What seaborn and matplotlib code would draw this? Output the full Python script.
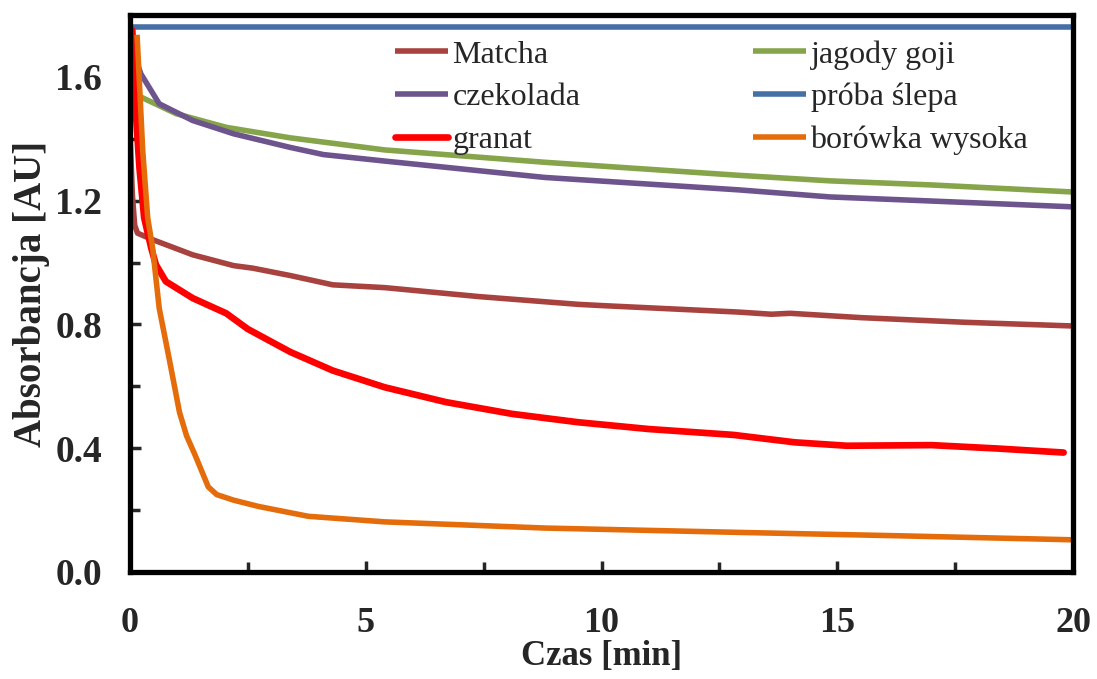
import numpy as np
import pandas as pd
import seaborn as sns
import matplotlib.pyplot as plt
from matplotlib.ticker import MultipleLocator

# Dane (czas w min, absorbancja w AU)
t_matcha = [0, 0.05, 0.1, 0.16, 0.48, 1.33, 2.2, 2.6, 3.4, 4.3, 5.4, 7.4, 9.5, 10.0, 12.9, 13.6, 14.0, 15.5, 17.7, 20]
matcha = [1.42, 1.22, 1.12, 1.095, 1.074, 1.025, 0.99, 0.982, 0.958, 0.928, 0.919, 0.890, 0.865, 0.861, 0.840, 0.833, 0.836, 0.822, 0.807, 0.795]

t_goji = [0, 0.03, 0.23, 0.98, 2.04, 3.4, 5.4, 8.8, 12.9, 14.85, 16.97, 20]
goji = [1.70, 1.56, 1.535, 1.481, 1.437, 1.403, 1.364, 1.324, 1.282, 1.264, 1.251, 1.228]

t_czek = [0, 0.12, 0.23, 0.62, 1.33, 2.2, 3.4, 4.1, 5.4, 8.8, 12.9, 14.85, 16.97, 20]
czekolada = [1.74, 1.66, 1.61, 1.513, 1.459, 1.416, 1.372, 1.349, 1.328, 1.275, 1.235, 1.212, 1.199, 1.180]

t_granat = [0.05, 0.13, 0.2, 0.3, 0.45, 0.55, 0.76, 1.33, 2.04, 2.5, 3.4, 4.3, 5.4, 6.7, 8.1, 9.5, 11.0, 12.8, 14.1, 15.2, 17.0, 18.4, 19.8]
granat = [1.75, 1.47, 1.307, 1.145, 1.047, 0.993, 0.939, 0.885, 0.836, 0.785, 0.711, 0.651, 0.597, 0.549, 0.511, 0.484, 0.462, 0.443, 0.419, 0.408, 0.410, 0.399, 0.386]

t_blank = [0, 20]
blank = [1.76, 1.76]

t_borowka = [0.15, 0.27, 0.375, 0.48, 0.62, 0.83, 1.05, 1.2, 1.38, 1.66, 1.84, 2.2, 2.72, 3.78, 5.4, 8.8, 12.9, 16.3, 20]
borowka = [1.736, 1.362, 1.145, 1.047, 0.852, 0.690, 0.516, 0.44, 0.378, 0.275, 0.250, 0.232, 0.212, 0.180, 0.162, 0.142, 0.128, 0.117, 0.104]

series = [
    ("Matcha", t_matcha, matcha, "#A8423F", 4.0),
    ("czekolada", t_czek, czekolada, "#6E548D", 4.0),
    ("granat", t_granat, granat, "#FF0000", 4.8),
    ("jagody goji", t_goji, goji, "#86A44A", 4.0),
    ("próba ślepa", t_blank, blank, "#4470A5", 4.0),
    ("borówka wysoka", t_borowka, borowka, "#E46C0A", 4.0),
]

sns.set_style("white")
plt.rcParams['font.family'] = ['Liberation Serif', 'DejaVu Serif']

fig = plt.figure(figsize=(10.97, 6.79), dpi=100)
ax = fig.add_axes([0.1185, 0.1576, 0.8597, 0.8203])

# rysowanie w kolejności: tło -> przód
order = ["próba ślepa", "jagody goji", "czekolada", "Matcha", "granat", "borówka wysoka"]
handles = {}
for name in order:
    for lab, t, y, c, lw in series:
        if lab == name:
            df = pd.DataFrame({"t": t, "y": y})
            sns.lineplot(x="t", y="y", data=df, color=c, linewidth=lw, sort=False,
                         estimator=None, ax=ax, solid_capstyle="round" if lab == "granat" else "butt",
                         solid_joinstyle="round")
            handles[lab] = ax.lines[-1]

ax.set_xlim(0, 20)
ax.set_ylim(0, 1.8)
ax.xaxis.set_major_locator(MultipleLocator(5))
ax.xaxis.set_minor_locator(MultipleLocator(2.5))
ax.yaxis.set_major_locator(MultipleLocator(0.4))
ax.yaxis.set_minor_locator(MultipleLocator(0.2))
ax.yaxis.set_major_formatter(plt.FormatStrFormatter('%.1f'))
ax.tick_params(which="both", direction="in", width=2.5, top=False, right=False,
               bottom=True, left=True)
ax.tick_params(which="major", length=8)
ax.tick_params(which="minor", length=7)
ax.tick_params(axis="x", which="major", labelsize=26, pad=25)
ax.tick_params(axis="y", which="major", labelsize=27, pad=20)
for lbl in ax.get_xticklabels() + ax.get_yticklabels():
    lbl.set_fontweight("bold")
for s in ax.spines.values():
    s.set_linewidth(3.8)
    s.set_color("black")

ax.set_xlabel("Czas [min]", fontsize=25, fontweight="bold", labelpad=0)
ax.set_ylabel("Absorbancja [AU]", fontsize=28, fontweight="bold", labelpad=4)

labels = ["Matcha", "czekolada", "granat", "jagody goji", "próba ślepa", "borówka wysoka"]
ax.legend([handles[l] for l in labels], labels, ncol=2, loc="upper left",
          bbox_to_anchor=(0.281, 0.955), frameon=False, fontsize=23,
          handlelength=1.65, handletextpad=0.15, columnspacing=5.4,
          labelspacing=0.42, borderpad=0, borderaxespad=0)

fig.savefig("out.png", dpi=100)
